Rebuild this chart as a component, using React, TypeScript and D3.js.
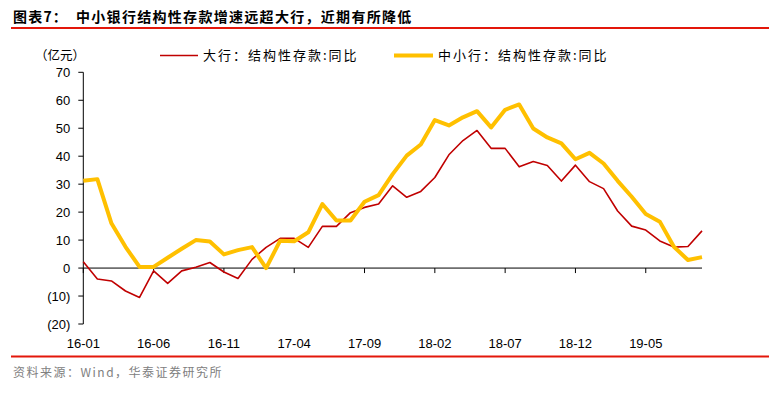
import React from 'react';
import * as d3 from 'd3';

// monthly, 2016-01 .. 2019-09
const months = d3.range(45).map(i => {
  const y = 16 + Math.floor(i / 12);
  const m = (i % 12) + 1;
  return `${y}-${m < 10 ? '0' + m : m}`;
});

const bigBanks = [
  2.3, -3.9, -4.6, -8.2, -10.5, -1.0, -5.5, -1.0, 0.3, 2.0,
  -1.4, -3.7, 3.1, 7.4, 10.6, 10.6, 7.4, 14.9, 14.9, 19.8,
  21.7, 22.9, 29.4, 25.3, 27.4, 32.4, 40.5, 45.6, 49.2, 42.8,
  42.8, 36.2, 38.1, 36.7, 31.1, 36.8, 30.9, 28.4, 20.4, 15.0,
  13.6, 9.7, 7.5, 7.7, 13.3,
];

const smallBanks = [
  31.2, 31.8, 16.0, 7.6, 0.4, 0.4, 3.7, 6.9, 10.0, 9.5,
  4.9, 6.4, 7.5, 0.0, 9.8, 9.6, 12.8, 22.9, 17.0, 17.0,
  23.7, 26.1, 33.6, 40.2, 44.2, 52.9, 51.0, 53.9, 56.1, 50.3,
  56.6, 58.5, 49.9, 46.7, 44.6, 38.9, 41.2, 37.4, 31.2, 25.5,
  19.3, 16.6, 7.6, 2.9, 3.9,
];

const yTicks = [-20, -10, 0, 10, 20, 30, 40, 50, 60, 70];
const xTickLabels = ['16-01', '16-06', '16-11', '17-04', '17-09', '18-02', '18-07', '18-12', '19-05'];

const seriesNames = ['大行：结构性存款:同比', '中小行：结构性存款:同比'];

const W = 769;
const H = 397;
const margin = { top: 72.3, left: 83.3, right: 67, bottom: 73 };
const cjk = '"Noto Sans CJK SC", sans-serif';
const latin = '"Liberation Sans", Arial, sans-serif';

const App = () => {
  const innerW = W - margin.left - margin.right;
  const innerH = H - margin.top - margin.bottom;

  const x = d3.scalePoint<string>().domain(months).range([0, innerW]);
  const y = d3.scaleLinear().domain([-20, 70]).range([innerH, 0]);

  const line = d3.line<number>()
    .x((_, i) => x(months[i]) as number)
    .y(d => y(d));

  const fmt = (v: number) => (v < 0 ? `(${Math.abs(v)})` : `${v}`);

  return (
    <svg width={W} height={H} style={{ position: 'absolute', left: 0, top: 0, background: '#fff' }}>
      <text x={13} y={22} fontFamily={cjk} fontWeight="bold" fontSize={14} fill="#000" letterSpacing={1.2}>
        图表7：
      </text>
      <text x={76} y={22} fontFamily={cjk} fontWeight="bold" fontSize={14} fill="#000" letterSpacing={1.3}>
        中小银行结构性存款增速远超大行，近期有所降低
      </text>
      <line x1={11} x2={769} y1={28} y2={28} stroke="#E3170A" strokeWidth={2} />

      <text x={35} y={60} fontFamily={cjk} fontSize={12.5} fill="#000">（亿元）</text>

      <line x1={160} x2={198} y1={55.5} y2={55.5} stroke="#C00000" strokeWidth={1.6} />
      <text x={203} y={60} fontFamily={cjk} fontSize={13} fill="#000" letterSpacing={2}>{seriesNames[0]}</text>
      <line x1={394} x2={433} y1={55.5} y2={55.5} stroke="#FFC000" strokeWidth={4} />
      <text x={438} y={60} fontFamily={cjk} fontSize={13} fill="#000" letterSpacing={2}>{seriesNames[1]}</text>

      <g transform={`translate(${margin.left}, ${margin.top})`}>
        <line x1={0} x2={0} y1={0} y2={innerH} stroke="#000" strokeWidth={1} />
        {yTicks.map(t => (
          <g key={t} transform={`translate(0, ${y(t)})`}>
            <line x1={-5} x2={0} stroke="#000" strokeWidth={1} />
            <text x={-13} dy="0.35em" textAnchor="end" fontFamily={latin} fontSize={13} fill="#000">
              {fmt(t)}
            </text>
          </g>
        ))}

        <line x1={0} x2={innerW} y1={y(0)} y2={y(0)} stroke="#000" strokeWidth={1} />
        {xTickLabels.map(l => (
          <g key={l} transform={`translate(${x(l)}, 0)`}>
            <line y1={y(0)} y2={y(0) + 5} stroke="#000" strokeWidth={1} />
            <text y={innerH + 24} textAnchor="middle" fontFamily={latin} fontSize={13} fill="#000">
              {l}
            </text>
          </g>
        ))}

        <path d={line(bigBanks) || ''} fill="none" stroke="#C00000" strokeWidth={1.6} strokeLinejoin="round" />
        <path d={line(smallBanks) || ''} fill="none" stroke="#FFC000" strokeWidth={4} strokeLinejoin="round" />
      </g>

      <line x1={11} x2={769} y1={356.5} y2={356.5} stroke="#E3170A" strokeWidth={2} />
      <text x={13} y={377} fontFamily={cjk} fontSize={12} fill="#808080" letterSpacing={1.5}>
        资料来源：Wind，华泰证券研究所
      </text>
    </svg>
  );
};

export default App;
